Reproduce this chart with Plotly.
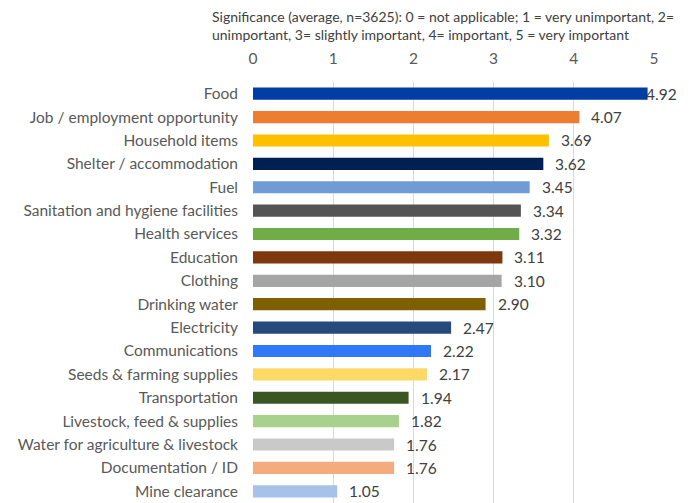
import plotly.graph_objects as go

categories = ["Food", "Job / employment opportunity", "Household items", "Shelter / accommodation",
              "Fuel", "Sanitation and hygiene facilities", "Health services", "Education", "Clothing",
              "Drinking water", "Electricity", "Communications", "Seeds & farming supplies",
              "Transportation", "Livestock, feed & supplies", "Water for agriculture & livestock",
              "Documentation / ID", "Mine clearance"]
values = [4.92, 4.07, 3.69, 3.62, 3.45, 3.34, 3.32, 3.11, 3.10, 2.90, 2.47, 2.22, 2.17, 1.94,
          1.82, 1.76, 1.76, 1.05]
colors = ["#003DA5", "#ED7D31", "#FFC000", "#001F52", "#6F9BD6", "#545454", "#70AD47", "#7F370D",
          "#A5A5A5", "#7F6000", "#264A7C", "#3178F8", "#FFD966", "#385723", "#A9D18E", "#C9C9C9",
          "#F4AB7E", "#A6C2E8"]
ticks = [0, 1, 2, 3, 4, 5]
title = ("Significance (average, n=3625): 0 = not applicable; 1 = very unimportant, 2=<br>"
         "unimportant, 3= slightly important, 4= important, 5 = very important")

FONT = "Lato"
W, H = 681, 495  # page body has an 8px margin
L, R, T = 245, 35, 74
fig = go.Figure()
fig.add_trace(go.Bar(x=values, y=categories, orientation="h", marker_color=colors,
                     marker_line_width=0, width=0.52))

for c, v in zip(categories, values):
    fig.add_annotation(x=v, y=c, text=f"{v:.2f}", showarrow=False, xanchor="left",
                       xshift=(-4 if v > 4.8 else 10),
                       font=dict(family=FONT, size=15.5, color="#404040"))

fig.add_annotation(text=title, xref="paper", yref="paper", x=(202 - L) / (W - L - R), y=1,
                   xanchor="left", yanchor="bottom", yshift=37, align="left", showarrow=False,
                   font=dict(family=FONT, size=14, color="#404040"))

fig.update_layout(
    width=W, height=H,
    margin=dict(l=L, r=R, t=T, b=0),
    plot_bgcolor="white", paper_bgcolor="white",
    showlegend=False,
    xaxis=dict(side="top", range=[0, 5], tickvals=ticks, showgrid=True, gridcolor="#D9D9D9",
               gridwidth=1, zeroline=False, showline=False, ticks="", ticklabelstandoff=14,
               tickfont=dict(family=FONT, size=15.5, color="#595959")),
    yaxis=dict(autorange="reversed", showgrid=False, zeroline=False, showline=False,
               ticks="", ticklabelstandoff=14,
               tickfont=dict(family=FONT, size=15.5, color="#595959")),
)
fig.write_html("out.html")
